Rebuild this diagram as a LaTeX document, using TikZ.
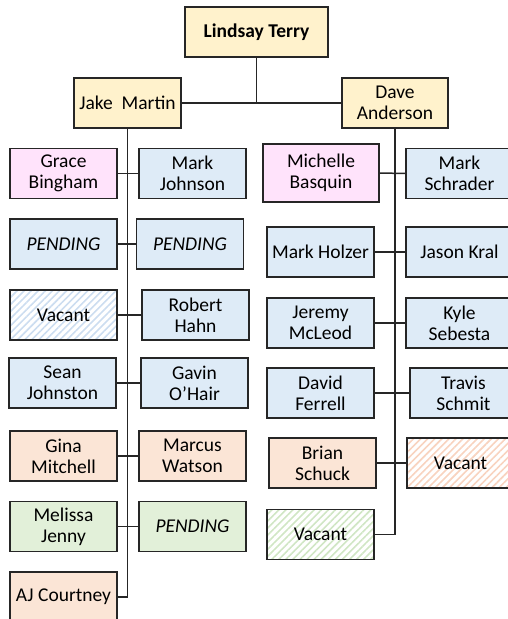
\documentclass[tikz,border=0pt]{standalone}
\usepackage{fontspec}
\setmainfont{Carlito}
\usetikzlibrary{patterns.meta}

\definecolor{lead}{HTML}{FFF2CC}
\definecolor{chief}{HTML}{FFE3FB}
\definecolor{crew}{HTML}{DEEBF7}
\definecolor{shift}{HTML}{FBE5D6}
\definecolor{relief}{HTML}{E2F0D9}
\definecolor{crewhatch}{HTML}{CCDDF0}
\definecolor{shifthatch}{HTML}{F8D3BF}
\definecolor{reliefhatch}{HTML}{D0E6C4}

\tikzset{
  box/.style={draw=black!85, line width=1.5pt, minimum width=107pt, minimum height=50pt,
    align=center, inner sep=1pt, font=\fontsize{19.5}{21}\selectfont},
  vacant/.style={box, pattern={Lines[angle=45,distance=5pt,line width=1.6pt]}, pattern color=#1},
  link/.style={line width=1.5pt, draw=black!85}
}

\begin{document}
\begin{tikzpicture}[x=1pt,y=-1pt]
\useasboundingbox (0,0) rectangle (507,619);
% top of the chart
\node [box,fill=lead,minimum width=143pt,font=\fontsize{19.5}{21}\selectfont\bfseries] (lt) at (256.5,32) {Lindsay Terry};
\node [box,fill=lead] (jm) at (127.5,103) {Jake\ \ Martin};
\node [box,fill=lead,minimum width=106pt] (da) at (395,103) {Dave\\Anderson};

% left branch
\node [box,fill=chief] (gb) at (63.5,173.5) {Grace\\Bingham};
\node [box,fill=crew]  (mj) at (192.5,173.5) {Mark\\Johnson};
\node [box,fill=crew]  (p1) at (63.5,244) {\itshape PENDING};
\node [box,fill=crew]  (p2) at (190,244) {\itshape PENDING};
\node [vacant=crewhatch] (v1) at (63.5,315) {Vacant};
\node [box,fill=crew]  (rh) at (195.5,315) {Robert\\Hahn};
\node [box,fill=crew]  (sj) at (62.5,383) {Sean\\Johnston};
\node [box,fill=crew]  (go) at (194.5,383) {Gavin\\O’Hair};
\node [box,fill=shift] (gm) at (63.5,456) {Gina\\Mitchell};
\node [box,fill=shift] (mw) at (192.5,456) {Marcus\\Watson};
\node [box,fill=relief] (mjn) at (63.5,526.5) {Melissa\\Jenny};
\node [box,fill=relief] (p3) at (192.5,526.5) {\itshape PENDING};
\node [box,fill=shift] (ac) at (63.5,597) {AJ Courtney};

% right branch
\node [box,fill=chief,minimum width=116pt,minimum height=58pt] (mb) at (321,173) {Michelle\\Basquin};
\node [box,fill=crew] (ms) at (459.5,173.5) {Mark\\Schrader};
\node [box,fill=crew] (mh) at (320.5,252) {Mark Holzer};
\node [box,fill=crew] (jk) at (459.5,252) {Jason Kral};
\node [box,fill=crew] (jmc) at (320.5,323) {Jeremy\\McLeod};
\node [box,fill=crew] (ks) at (459.5,323) {Kyle\\Sebesta};
\node [box,fill=crew] (df) at (320.5,393) {David\\Ferrell};
\node [box,fill=crew] (ts) at (463.5,393) {Travis\\Schmit};
\node [box,fill=shift] (bs) at (322.5,463) {Brian\\Schuck};
\node [vacant=shifthatch] (v2) at (460.5,463) {Vacant};
\node [vacant=reliefhatch] (v3) at (320.5,534.5) {Vacant};

% connectors
\draw [link] (lt.south) -- (lt.south |- jm.east);
\draw [link] (jm.east) -- (da.west);
\draw [link] (jm.south) |- (ac.east);
\draw [link] (da.south) |- (v3.east);
\foreach \a/\b in {gb/mj,p1/p2,v1/rh,sj/go,gm/mw,mjn/p3,mb/ms,mh/jk,jmc/ks,df/ts,bs/v2}
  \draw [link] (\a.east) -- (\b.west);
\end{tikzpicture}
\end{document}
